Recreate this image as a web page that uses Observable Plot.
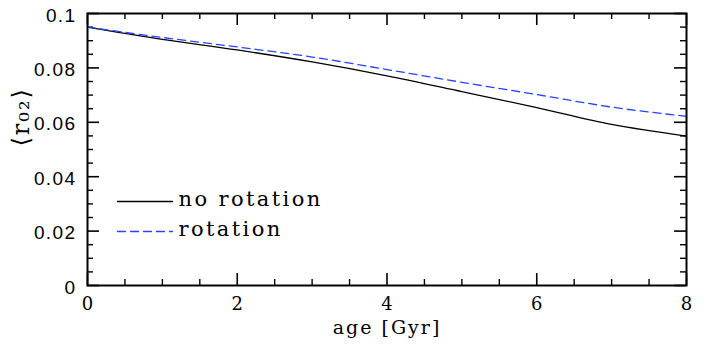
<!DOCTYPE html>
<html><head><meta charset="utf-8">
<script src="https://cdn.jsdelivr.net/npm/d3@7"></script>
<script src="https://cdn.jsdelivr.net/npm/@observablehq/plot@0.6"></script>
<style>
body{margin:0;background:#fff}
.chart text{letter-spacing:2px}
.chart .leg text{letter-spacing:2.4px}
.chart .ylab text{letter-spacing:1.4px}
</style>
</head><body><div id="chart"></div>
<script>
const ages = [0, 1, 2, 3, 4, 5, 6, 7, 8];
const noRotation = [0.0950, 0.0905, 0.0866, 0.0822, 0.0771, 0.0713, 0.0654, 0.0592, 0.0549];
const rotation   = [0.0950, 0.0912, 0.0877, 0.0840, 0.0794, 0.0747, 0.0702, 0.0656, 0.0622];
const seriesNames = ["no rotation", "rotation"];
const xMajor = [0, 2, 4, 6, 8];
const xMinor = [0.5, 1, 1.5, 2.5, 3, 3.5, 4.5, 5, 5.5, 6.5, 7, 7.5];
const yMajor = [0, 0.02, 0.04, 0.06, 0.08, 0.1];
const yMinor = [0.005,0.01,0.015,0.025,0.03,0.035,0.045,0.05,0.055,0.065,0.07,0.075,0.085,0.09,0.095];
const xLabel = "age [Gyr]";
const yLabel = "⟨r₀₂⟩";

const rows = ages.map((a, i) => ({age: a, noRot: noRotation[i], rot: rotation[i]}));
const blue = "#2444ff";
const lineShape = {draw(ctx, l) { ctx.moveTo(0, 0); ctx.lineTo(0, -l); }};
const font = "DejaVu Serif";
const yFmt = d => d === 0 ? "0" : d === 0.1 ? "0.1" : d.toFixed(2);

const chart = Plot.plot({
  width: 713, height: 347,
  marginLeft: 87, marginRight: 27, marginTop: 13, marginBottom: 62,
  className: "chart",
  style: {fontFamily: font, fontSize: "16px", background: "#fff", color: "#000"},
  x: {domain: [0, 8], axis: null},
  y: {domain: [0, 0.1], axis: null},
  marks: [
    // minor ticks
    Plot.ruleX(xMinor, {x: d => d, y1: 0, y2: 0, insetTop: -6, stroke: "#000", strokeWidth: 1.4}),
    Plot.ruleX(xMinor, {x: d => d, y1: 0.1, y2: 0.1, insetBottom: -6, stroke: "#000", strokeWidth: 1.4}),
    Plot.ruleY(yMinor, {y: d => d, x1: 0, x2: 0, insetRight: -6, stroke: "#000", strokeWidth: 1.4}),
    Plot.ruleY(yMinor, {y: d => d, x1: 8, x2: 8, insetLeft: -6, stroke: "#000", strokeWidth: 1.4}),
    // major ticks
    Plot.ruleX(xMajor, {x: d => d, y1: 0, y2: 0, insetTop: -12, stroke: "#000", strokeWidth: 1.6}),
    Plot.ruleX(xMajor, {x: d => d, y1: 0.1, y2: 0.1, insetBottom: -12, stroke: "#000", strokeWidth: 1.6}),
    Plot.ruleY(yMajor, {y: d => d, x1: 0, x2: 0, insetRight: -12, stroke: "#000", strokeWidth: 1.6}),
    Plot.ruleY(yMajor, {y: d => d, x1: 8, x2: 8, insetLeft: -12, stroke: "#000", strokeWidth: 1.6}),
    // tick labels
    Plot.text(xMajor, {x: d => d, text: d => String(d), frameAnchor: "bottom", lineAnchor: "middle", dy: 19, dx: 1, fontSize: 18}),
    Plot.text(yMajor, {y: d => d, text: yFmt, frameAnchor: "left", textAnchor: "end", lineAnchor: "middle", dx: -11, dy: 2, fontSize: 19, fontFamily: "Liberation Sans", className: "ylab"}),
    Plot.text([xLabel], {frameAnchor: "bottom", lineAnchor: "middle", dy: 42, fontSize: 19}),
    Plot.text([yLabel], {frameAnchor: "left", lineAnchor: "middle", dx: -66, dy: -3, rotate: -90, fontSize: 24}),
    // data
    Plot.line(rows, {x: "age", y: "noRot", stroke: "#000", strokeWidth: 1.3, curve: "monotone-x"}),
    Plot.line(rows, {x: "age", y: "rot", stroke: blue, strokeWidth: 1.3, strokeDasharray: "8,5", curve: "monotone-x"}),
    // legend
    Plot.vector([seriesNames[0]], {frameAnchor: "top-left", dx: 30, dy: 188, length: 55, rotate: 90, anchor: "start", shape: lineShape, stroke: "#000", strokeWidth: 1.3}),
    Plot.vector([seriesNames[1]], {frameAnchor: "top-left", dx: 30, dy: 218, length: 55, rotate: 90, anchor: "start", shape: lineShape, stroke: blue, strokeWidth: 1.3, strokeDasharray: "8,5"}),
    Plot.text([seriesNames[0]], {frameAnchor: "top-left", lineAnchor: "middle", dx: 91, dy: 186, textAnchor: "start", fontSize: 21, className: "leg"}),
    Plot.text([seriesNames[1]], {frameAnchor: "top-left", lineAnchor: "middle", dx: 91, dy: 216, textAnchor: "start", fontSize: 21, className: "leg"}),
    Plot.frame({stroke: "#000", strokeWidth: 2})
  ]
});
document.getElementById("chart").appendChild(chart);
</script>
</body></html>
